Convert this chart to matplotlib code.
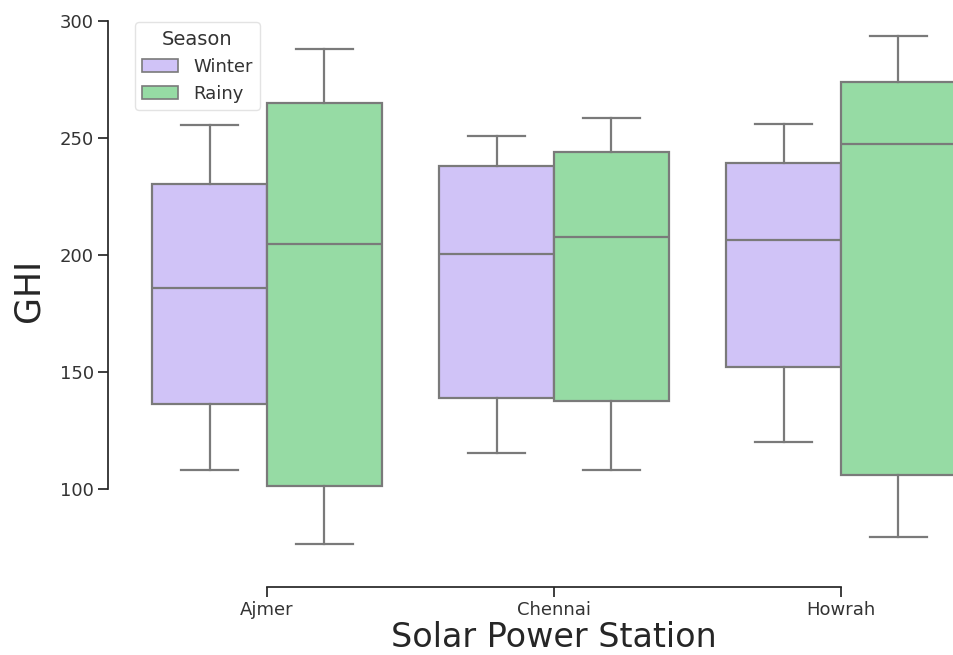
"""Box plot of GHI by solar power station and season."""

import matplotlib

matplotlib.use("Agg")
import matplotlib.pyplot as plt
from matplotlib.patches import Patch

STATIONS = ["Ajmer", "Chennai", "Howrah"]
SEASONS = ["Winter", "Rainy"]
COLORS = {"Winter": "#d0c3f7", "Rainy": "#96dba4"}
LINE_COLOR = "#7a7a7a"

# five-number summaries per station: [whislo, q1, median, q3, whishi]
WINTER = {
    "Ajmer": [108.0, 136.5, 186.0, 230.5, 255.5],
    "Chennai": [115.5, 139.0, 200.5, 238.0, 251.0],
    "Howrah": [120.0, 152.0, 206.5, 239.5, 256.0],
}
RAINY = {
    "Ajmer": [76.5, 101.5, 204.5, 265.0, 288.0],
    "Chennai": [108.0, 137.5, 207.5, 244.0, 258.5],
    "Howrah": [79.5, 106.0, 247.5, 274.0, 293.5],
}
SEASON_DATA = {"Winter": WINTER, "Rainy": RAINY}


def _stats(values, label):
    lo, q1, med, q3, hi = values
    return {
        "label": label,
        "whislo": lo,
        "q1": q1,
        "med": med,
        "q3": q3,
        "whishi": hi,
        "fliers": [],
    }


def main() -> None:
    fig = plt.figure(figsize=(9.54, 6.55), dpi=100)
    ax = fig.add_axes([0.1295, 0.1305, 0.9025, 0.8535])

    width = 0.4
    offsets = {"Winter": -width / 2, "Rainy": width / 2}
    line_kw = dict(color=LINE_COLOR, linewidth=1.6)
    for season in SEASONS:
        stats = [_stats(SEASON_DATA[season][s], s) for s in STATIONS]
        positions = [i + offsets[season] for i in range(len(STATIONS))]
        ax.bxp(
            stats,
            positions=positions,
            widths=width,
            patch_artist=True,
            showfliers=False,
            manage_ticks=False,
            boxprops=dict(facecolor=COLORS[season], edgecolor=LINE_COLOR, linewidth=1.6),
            medianprops=line_kw,
            whiskerprops=line_kw,
            capprops=line_kw,
        )

    ax.set_xlim(-0.5, 2.5)
    ax.set_ylim(65.6, 304.5)
    ax.set_xticks(range(len(STATIONS)))
    ax.set_xticklabels(STATIONS)
    ax.set_yticks([100, 150, 200, 250, 300])

    # offset and trimmed spines
    for side in ("top", "right"):
        ax.spines[side].set_visible(False)
    ax.spines["left"].set_position(("outward", 11))
    ax.spines["bottom"].set_position(("outward", 12.5))
    ax.spines["left"].set_bounds(100, 300)
    ax.spines["bottom"].set_bounds(0, 2)
    for side in ("left", "bottom"):
        ax.spines[side].set_color("#262626")
        ax.spines[side].set_linewidth(1.25)

    ax.tick_params(axis="both", length=7, width=1.25, color="#262626",
                   labelsize=13, labelcolor="#333333")
    ax.set_ylabel("GHI", fontsize=25, color="#262626", labelpad=10)
    ax.set_xlabel("Solar Power Station", fontsize=24, color="#262626", labelpad=1)

    handles = [
        Patch(facecolor=COLORS[s], edgecolor=LINE_COLOR, linewidth=1.2, label=s)
        for s in SEASONS
    ]
    leg = ax.legend(handles=handles, title="Season", loc="upper left",
                    fontsize=13, title_fontsize=14, frameon=True,
                    bbox_to_anchor=(0.003, 0.995))
    leg.get_frame().set_edgecolor("#dddddd")
    leg.get_title().set_color("#333333")
    for text in leg.get_texts():
        text.set_color("#333333")

    fig.savefig("out.png", dpi=100)


if __name__ == "__main__":
    main()
